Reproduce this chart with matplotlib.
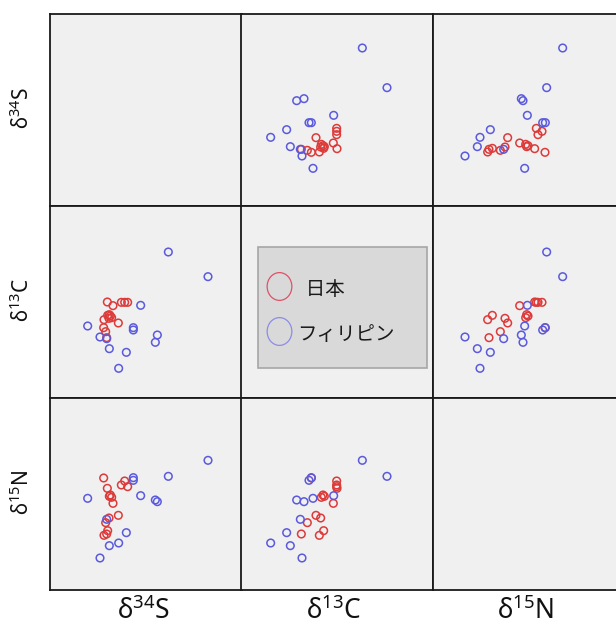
import matplotlib
matplotlib.use('Agg')
import matplotlib.pyplot as plt
from matplotlib.lines import Line2D
from matplotlib.patches import Rectangle
from matplotlib.path import Path
from matplotlib.transforms import Affine2D

# isotope ratios (relative units)
labels = [r'$\mathregular{δ^{34}S}$', r'$\mathregular{δ^{13}C}$', r'$\mathregular{δ^{15}N}$']
groups = ['  日本', 'フィリピン']

japan_s = [238, 229, 219, 177, 194, 186, 183, 190, 210, 182, 172, 175, 178, 167, 166]
japan_c = [292, 292, 292, 293, 282, 251, 255, 246, 230, 244, 204, 186, 253, 240, 216]
japan_n = [315, 332, 320, 310, 265, 290, 286, 283, 229, 221, 207, 173, 183, 169, 341]

phil_s = [479, 360, 277, 118, 255, 255, 327, 321, 155, 175, 183, 234, 211]
phil_c = [369, 443, 283, 221, 216, 209, 194, 172, 188, 183, 153, 142, 94]
phil_n = [394, 346, 288, 280, 342, 334, 270, 275, 101, 217, 138, 177, 146]

red = '#dd3a3a'
blue = '#5a5ade'

W, H = 616, 627
fig = plt.figure(figsize=(W / 100, H / 100), dpi=100)
fig.patch.set_facecolor('white')

col_left = [50, 241, 433]
row_top = [14, 206, 398]
size = 192

jp = [japan_s, japan_c, japan_n]
ph = [phil_s, phil_c, phil_n]

for i in range(3):
    for j in range(3):
        ax = fig.add_axes([col_left[j] / W, 1 - (row_top[i] + size) / H, size / W, size / H])
        ax.set_facecolor('#f0f0f0')
        ax.set_xticks([])
        ax.set_yticks([])
        ax.set_xlim(5, 581)
        ax.set_ylim(5, 581)
        for sp in ax.spines.values():
            sp.set_linewidth(1.3)
            sp.set_color('#1a1a1a')
        if i != j:
            ax.scatter(jp[j], jp[i], s=30, facecolors='none', edgecolors=red, linewidths=1.1)
            ax.scatter(ph[j], ph[i], s=30, facecolors='none', edgecolors=blue, linewidths=1.1)
        elif i == 1:
            # legend box
            ax.add_patch(Rectangle((0.089, 0.156), 0.88, 0.63, transform=ax.transAxes,
                                   facecolor='#d9d9d9', edgecolor='#a6a6a6', linewidth=1.2))
            oval = Path.unit_circle().transformed(Affine2D().scale(0.89, 1.0))
            handles = [Line2D([], [], linestyle='none', marker=oval, markersize=20,
                              markerfacecolor='none', markeredgecolor=c, markeredgewidth=0.9)
                       for c in ('#e0506a', '#8c8ce6')]
            ax.legend(handles, groups, loc='upper left', bbox_to_anchor=(0.130, 0.630),
                      borderaxespad=0, borderpad=0, handlelength=1.3,
                      handleheight=1.45, handletextpad=0.3, labelspacing=1.14,
                      frameon=False, labelcolor='#1a1a1a',
                      prop={'family': 'Noto Sans CJK JP', 'size': 14})

for k in range(3):
    fig.text((col_left[k] + size / 2 - 3) / W, 1 / H, labels[k], ha='center',
             va='bottom', fontsize=19, family='Noto Sans', color='#111111')
    fig.text(22 / W, 1 - (row_top[k] + size / 2 - 2) / H, labels[k], ha='center', va='center',
             rotation=90, fontsize=15, family='Noto Sans', color='#111111')

fig.savefig('out.png', dpi=100)
